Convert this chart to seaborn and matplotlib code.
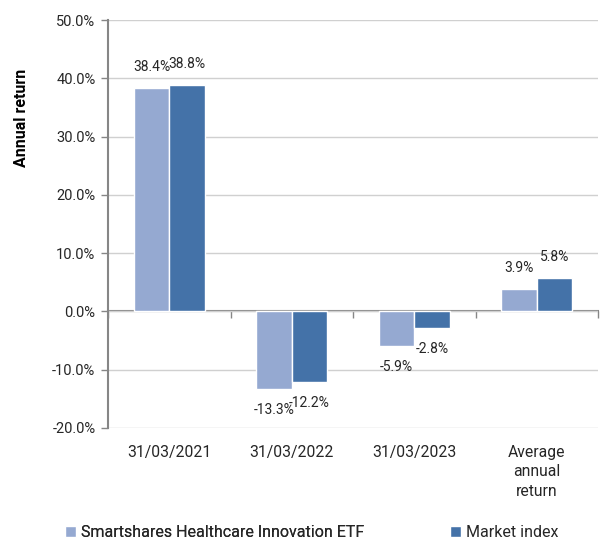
import pandas as pd
import matplotlib
matplotlib.use("Agg")
import matplotlib.pyplot as plt
import seaborn as sns
from matplotlib.ticker import FuncFormatter, FixedLocator
from matplotlib.patches import Patch

# --- Data ---
periods = ["31/03/2021", "31/03/2022", "31/03/2023", "Average\nannual\nreturn"]
etf_returns = [38.4, -13.3, -5.9, 3.9]
index_returns = [38.8, -12.2, -2.8, 5.8]
series_names = ["Smartshares Healthcare Innovation ETF", "Market index"]

LIGHT = "#95a9d1"
DARK = "#4472a8"
AXIS_GREY = "#868686"
GRID_GREY = "#d0d0d0"
TEXT = "#262626"

df = pd.DataFrame({
    "period": periods * 2,
    "value": etf_returns + index_returns,
    "series": [series_names[0]] * len(periods) + [series_names[1]] * len(periods),
})

sns.set_style("white")
plt.rcParams["font.family"] = ["Roboto", "DejaVu Sans"]
plt.rcParams["text.color"] = TEXT

fig = plt.figure(figsize=(6.0, 5.41), dpi=100)
ax = fig.add_axes([0.18, 0.209, 0.817, 0.754])

sns.barplot(data=df, x="period", y="value", hue="series",
            palette=[LIGHT, DARK], saturation=1, width=0.58,
            order=periods, hue_order=series_names, legend=False, ax=ax)

# data labels at the bar ends
for cont in ax.containers:
    ax.bar_label(cont, labels=[f"{v:.1f}%" for v in cont.datavalues],
                 padding=10, fontsize=10, color=TEXT)

ax.set_ylim(-20, 50)
ax.set_xlim(-0.5, len(periods) - 0.5)
ax.yaxis.set_major_locator(FixedLocator(range(-20, 51, 10)))
ax.yaxis.set_major_formatter(FuncFormatter(lambda v, _: f"{v:.1f}%"))
ax.grid(axis="y", color=GRID_GREY, linewidth=1)
ax.set_axisbelow(True)

for side in ["top", "right", "bottom"]:
    ax.spines[side].set_visible(False)
ax.spines["left"].set_color(AXIS_GREY)
ax.spines["left"].set_linewidth(1.5)
ax.tick_params(axis="y", direction="out", length=5, width=1, color=AXIS_GREY,
               labelsize=10.5, labelcolor=TEXT, pad=4, left=True)
ax.tick_params(axis="x", length=0, labelsize=11.3, labelcolor=TEXT, pad=12)
for lbl in ax.get_xticklabels():
    lbl.set_linespacing(1.38)
ax.set_xlabel("")
ax.set_ylabel("Annual return", fontsize=11.5, fontweight="bold", color="black")
ax.yaxis.set_label_coords(-0.162, 0.76)

# zero line with category boundary ticks
zero_frac = (0 - (-20)) / 70
sec = ax.secondary_xaxis(zero_frac)
sec.set_xticks([i - 0.5 for i in range(len(periods) + 1)])
sec.set_xticklabels([])
sec.spines["bottom"].set_color(AXIS_GREY)
sec.spines["bottom"].set_linewidth(1.5)
sec.tick_params(axis="x", direction="out", length=5, width=1, color=AXIS_GREY)

# legend entries, placed like the original
leg_kw = dict(loc="center left", frameon=False, fontsize=11.5, handlelength=0.7,
              handleheight=0.7, borderaxespad=0, borderpad=0)
leg1 = fig.legend([Patch(facecolor=LIGHT)], [series_names[0]],
                  bbox_to_anchor=(0.108, 0.016), handletextpad=0.3, **leg_kw)
fig.add_artist(leg1)
fig.legend([Patch(facecolor=DARK)], [series_names[1]],
           bbox_to_anchor=(0.75, 0.016), handletextpad=0.3, **leg_kw)

fig.savefig("out.png", dpi=100)
